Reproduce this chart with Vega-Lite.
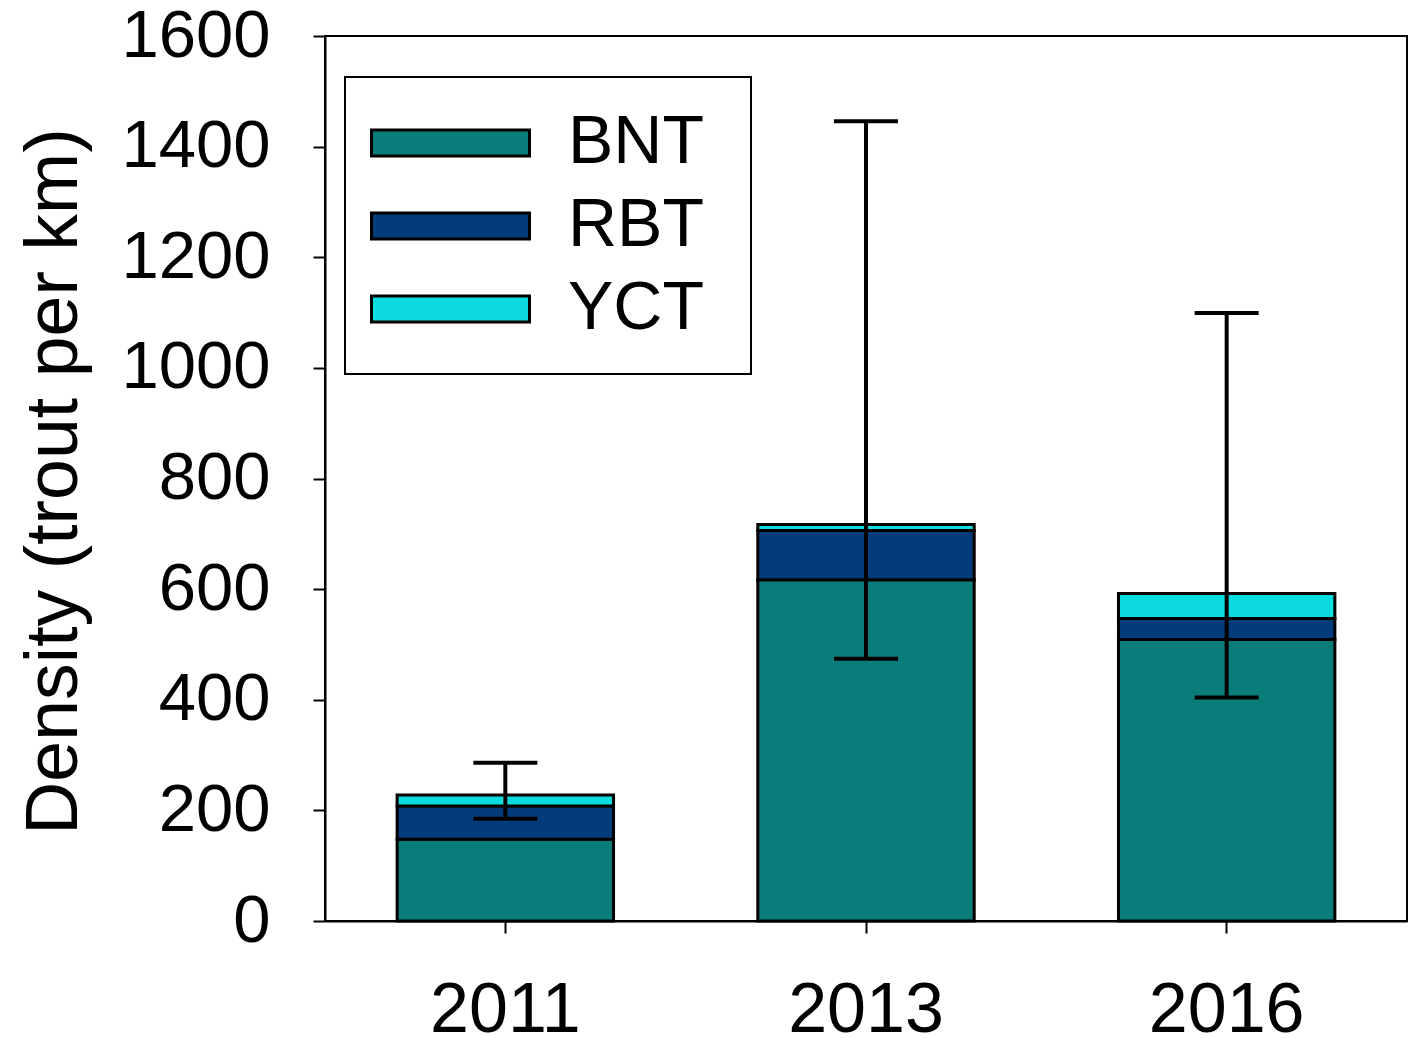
{
  "$schema": "https://vega.github.io/schema/vega-lite/v6.json",
  "width": 1082,
  "height": 885,
  "autosize": {"type": "none"},
  "padding": {"left": 325, "top": 36, "right": 4, "bottom": 117},
  "background": "white",
  "config": {
    "font": "Liberation Sans",
    "view": {"stroke": "black", "strokeWidth": 2},
    "axis": {
      "domainColor": "black", "domainWidth": 2,
      "tickColor": "black", "tickWidth": 2, "tickSize": 12,
      "labelColor": "black", "titleColor": "black",
      "labelFont": "Liberation Sans", "titleFont": "Liberation Sans",
      "grid": false
    }
  },
  "datasets": {
    "density": [
      {"year": "2011", "species": "BNT", "value": 148},
      {"year": "2011", "species": "RBT", "value": 60},
      {"year": "2011", "species": "YCT", "value": 20},
      {"year": "2013", "species": "BNT", "value": 617},
      {"year": "2013", "species": "RBT", "value": 89},
      {"year": "2013", "species": "YCT", "value": 11},
      {"year": "2016", "species": "BNT", "value": 509},
      {"year": "2016", "species": "RBT", "value": 38},
      {"year": "2016", "species": "YCT", "value": 45}
    ],
    "errors": [
      {"year": "2011", "low": 185, "high": 286},
      {"year": "2013", "low": 474, "high": 1446},
      {"year": "2016", "low": 404, "high": 1099}
    ]
  },
  "layer": [
    {
      "data": {"name": "density"},
      "mark": {"type": "bar", "stroke": "black", "strokeWidth": 3},
      "encoding": {
        "x": {
          "field": "year", "type": "nominal",
          "scale": {"paddingInner": 0.4, "paddingOuter": 0.2},
          "axis": {"title": null, "labelAngle": 0, "labelFontSize": 70, "labelPadding": 43, "labelBaseline": "top"}
        },
        "y": {
          "field": "value", "type": "quantitative", "stack": "zero",
          "scale": {"domain": [0, 1600], "nice": false},
          "axis": {
            "values": [0, 200, 400, 600, 800, 1000, 1200, 1400, 1600],
            "format": "d",
            "title": "Density (trout per km)", "titleFontSize": 73.5, "titleFontWeight": "normal",
            "titleX": -249, "titleY": 445, "titleAngle": -90, "titleAlign": "center", "titleBaseline": "alphabetic",
            "labelFontSize": 67, "labelPadding": 43
          }
        },
        "color": {
          "field": "species", "type": "nominal",
          "scale": {"domain": ["BNT", "RBT", "YCT"], "range": ["#087d7a", "#033c7b", "#0adcdf"]},
          "legend": {
            "title": null, "orient": "none", "legendX": 20, "legendY": 41,
            "fillColor": "white", "strokeColor": "black",
            "padding": 25,
            "symbolType": "M-1,-0.33H3V0.33H-1Z M-1,-0.86 M7.82,0.86", "symbolSize": 6241,
            "symbolStrokeColor": "black", "symbolStrokeWidth": 3,
            "labelFontSize": 68, "labelColor": "black", "labelOffset": 116,
            "rowPadding": 2,
            "encode": {"legend": {"update": {"strokeWidth": {"value": 2}}}}
          }
        },
        "order": {"field": "species", "sort": "ascending"}
      }
    },
    {
      "data": {"name": "errors"},
      "mark": {"type": "rule", "color": "black", "strokeWidth": 4},
      "encoding": {
        "x": {"field": "year", "type": "nominal"},
        "y": {"field": "low", "type": "quantitative"},
        "y2": {"field": "high"}
      }
    },
    {
      "data": {"name": "errors"},
      "mark": {"type": "tick", "color": "black", "thickness": 4, "size": 64, "opacity": 1},
      "encoding": {
        "x": {"field": "year", "type": "nominal"},
        "y": {"field": "low", "type": "quantitative"}
      }
    },
    {
      "data": {"name": "errors"},
      "mark": {"type": "tick", "color": "black", "thickness": 4, "size": 64, "opacity": 1},
      "encoding": {
        "x": {"field": "year", "type": "nominal"},
        "y": {"field": "high", "type": "quantitative"}
      }
    }
  ]
}
